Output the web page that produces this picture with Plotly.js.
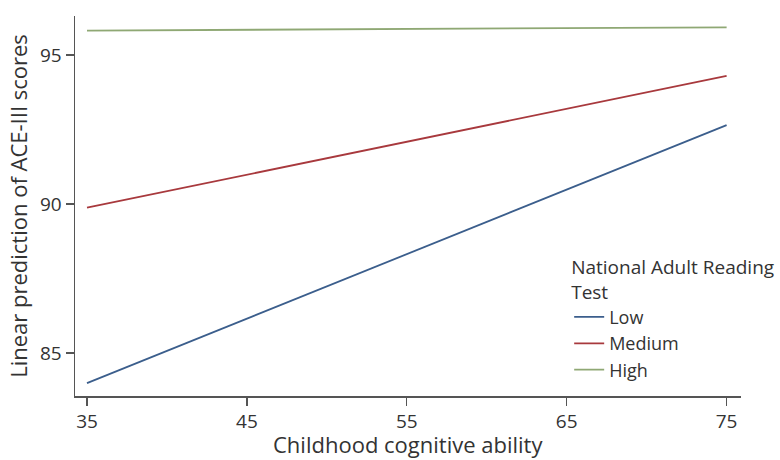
<!DOCTYPE html>
<html>
<head>
<meta charset="utf-8">
<script src="https://cdn.plot.ly/plotly-3.0.1.min.js"></script>
<style>html,body{margin:0;padding:0;background:#fff;}#chart{width:780px;height:460px;}</style>
</head>
<body>
<div id="chart"></div>
<script>
const xVals = [35, 75];
const lowVals = [83.99, 92.65];
const mediumVals = [89.88, 94.3];
const highVals = [95.82, 95.93];
const seriesNames = ["Low", "Medium", "High"];
const seriesColors = ["#3b5e8c", "#a8393d", "#8fa874"];
const xTicks = [35, 45, 55, 65, 75];
const yTicks = [85, 90, 95];
const xTitle = 'Childhood cognitive ability';
const yTitle = 'Linear prediction of ACE-III scores';

const seriesData = [lowVals, mediumVals, highVals];
const traces = seriesData.map((v, i) => ({
  x: xVals, y: v, type: 'scatter', mode: 'lines', name: seriesNames[i],
  line: {color: seriesColors[i], width: 1.8}
}));

const layout = {
  width: 780, height: 460,
  margin: {l: 75, r: 39, t: 16, b: 64, autoexpand: false},
  paper_bgcolor: '#fff', plot_bgcolor: '#fff',
  font: {family: 'Open Sans, sans-serif', color: '#333', size: 18},
  showlegend: true,
  legend: {
    x: 0.742, y: 0.386, xanchor: 'left', yanchor: 'top',
    title: {text: 'National Adult Reading<br>Test', font: {size: 19, color: '#333'}},
    font: {size: 18, color: '#333'},
    bgcolor: 'rgba(0,0,0,0)', tracegroupgap: 0, itemwidth: 30
  },
  xaxis: {
    range: [34.25, 75.9], tickvals: xTicks, ticks: 'outside', ticklen: 8, tickwidth: 1.2,
    tickcolor: '#555', showline: true, linecolor: '#555', linewidth: 1.5, showgrid: false, zeroline: false,
    tickfont: {size: 19, color: '#333'}
  },
  yaxis: {
    range: [83.56, 96.31], tickvals: yTicks, ticks: 'outside', ticklen: 8, tickwidth: 1.2,
    tickcolor: '#555', showline: true, linecolor: '#555', linewidth: 1.5, showgrid: false, zeroline: false,
    tickfont: {size: 19, color: '#333'},
    title: {text: yTitle, font: {size: 22, color: '#333'}, standoff: 6}
  },
  annotations: [{
    text: xTitle, xref: 'paper', yref: 'paper', x: 0.5, y: -0.127,
    xanchor: 'center', yanchor: 'middle', showarrow: false,
    font: {size: 22, color: '#333'}
  }]
};
Plotly.newPlot('chart', traces, layout, {displayModeBar: false, staticPlot: true});
</script>
</body>
</html>
